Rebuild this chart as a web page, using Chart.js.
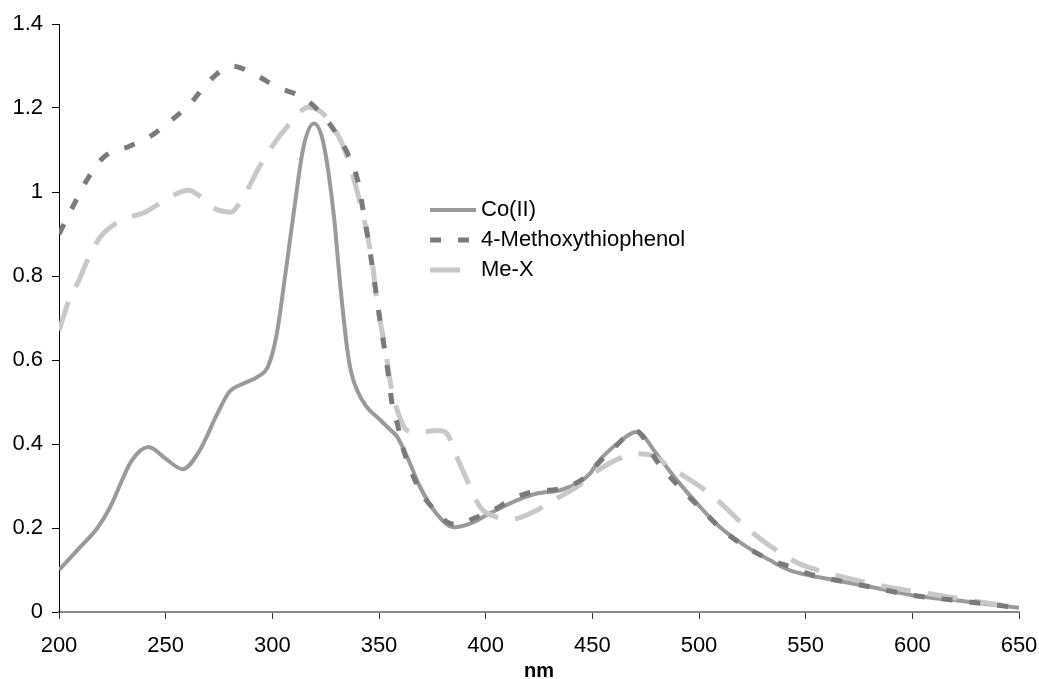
<!DOCTYPE html>
<html>
<head>
<meta charset="utf-8">
<title>Absorption spectra</title>
<script src="https://cdn.jsdelivr.net/npm/chart.js@4.4.0/dist/chart.umd.min.js"></script>
<style>
  html, body { margin: 0; padding: 0; background: #fff; }
</style>
</head>
<body>
<canvas id="spectrumChart" width="1039" height="679"></canvas>
<script>
// data (wavelength in nm, absorbance)
const coX = [200, 210, 218, 224, 234, 242, 250, 258, 266, 274, 280, 287, 293, 298, 302, 306, 310, 314.6, 319.5, 324, 328.7, 332, 335, 337, 340, 344, 350, 355, 358.4, 364, 369, 377, 385, 393, 402, 414.6, 424, 435, 442.7, 449, 452, 461.5, 471, 480, 489.6, 502, 511.4, 522.4, 533.3, 542.7, 552, 564.6, 580, 600, 625, 650];
const coY = [0.10, 0.155, 0.20, 0.25, 0.36, 0.393, 0.365, 0.34, 0.385, 0.47, 0.525, 0.545, 0.56, 0.585, 0.66, 0.80, 0.95, 1.107, 1.163, 1.115, 0.95, 0.77, 0.63, 0.57, 0.525, 0.49, 0.46, 0.435, 0.418, 0.36, 0.30, 0.234, 0.202, 0.211, 0.235, 0.266, 0.282, 0.29, 0.306, 0.33, 0.353, 0.40, 0.429, 0.377, 0.314, 0.242, 0.195, 0.155, 0.123, 0.099, 0.087, 0.075, 0.06, 0.04, 0.025, 0.01];

const methX = [200, 206.8, 213, 221, 233, 242, 252, 261.5, 270, 281, 293.5, 302, 314, 323, 329.5, 335.7, 340.4, 342.7, 345, 350.6, 354.4, 356, 359, 360.7, 364.6, 370, 378.7, 382, 388, 394, 402, 413, 422, 435, 445, 452, 461, 470, 481, 490, 502, 511, 522, 533, 543, 552, 565, 580, 600, 625, 650];
const methY = [0.90, 0.968, 1.028, 1.083, 1.109, 1.13, 1.168, 1.21, 1.262, 1.30, 1.275, 1.25, 1.226, 1.187, 1.143, 1.087, 1.02, 0.952, 0.885, 0.69, 0.564, 0.50, 0.44, 0.40, 0.341, 0.282, 0.23, 0.214, 0.208, 0.222, 0.238, 0.27, 0.286, 0.294, 0.315, 0.35, 0.395, 0.432, 0.354, 0.302, 0.24, 0.195, 0.155, 0.125, 0.107, 0.09, 0.075, 0.06, 0.04, 0.025, 0.01];

const mexX = [200, 205, 209, 214, 219.4, 229.5, 240.4, 252, 260.7, 266, 271.7, 280.3, 287.3, 293.5, 300, 307.6, 317, 323, 329.5, 334, 342, 346.7, 349, 353, 356, 360, 363, 368, 372.5, 378, 381.8, 386.5, 392.7, 397.4, 405.2, 413, 422.4, 430.2, 442.7, 452, 460.7, 470.9, 477.9, 486.4, 505, 525.5, 545.8, 553.5, 567.7, 587, 607, 631.7, 650];
const mexY = [0.67, 0.747, 0.786, 0.845, 0.893, 0.933, 0.952, 0.988, 1.004, 0.99, 0.964, 0.952, 0.996, 1.056, 1.11, 1.159, 1.202, 1.19, 1.147, 1.099, 0.956, 0.837, 0.742, 0.623, 0.528, 0.46, 0.433, 0.428, 0.43, 0.432, 0.425, 0.369, 0.298, 0.25, 0.226, 0.222, 0.238, 0.262, 0.298, 0.335, 0.361, 0.377, 0.373, 0.345, 0.282, 0.187, 0.118, 0.103, 0.083, 0.061, 0.044, 0.024, 0.01];

const seriesNames = ['Co(II)', '4-Methoxythiophenol', 'Me-X'];
const xTickLabels = ['200', '250', '300', '350', '400', '450', '500', '550', '600', '650'];
const yTickLabels = ['0', '0.2', '0.4', '0.6', '0.8', '1', '1.2', '1.4'];

const FONT = '"Liberation Sans", Arial, sans-serif';
Chart.defaults.font.family = FONT;
Chart.defaults.color = '#000';

function toPoints(xs, ys) {
    return xs.map((x, i) => ({ x: x, y: ys[i] }));
}

// legend drawn inside the plot, like the original
const insideLegend = {
    id: 'insideLegend',
    afterDatasetsDraw(chart) {
        const ctx = chart.ctx;
        ctx.save();
        chart.data.datasets.forEach((ds, i) => {
            const y = 210 + i * 30;
            ctx.strokeStyle = ds.borderColor;
            ctx.lineWidth = ds.borderWidth;
            ctx.setLineDash(ds.borderDash || []);
            ctx.beginPath();
            ctx.moveTo(430, y);
            ctx.lineTo(476, y);
            ctx.stroke();
            ctx.setLineDash([]);
            ctx.fillStyle = '#000';
            ctx.font = '22px ' + FONT;
            ctx.textBaseline = 'middle';
            ctx.fillText(ds.label, 481, y);
        });
        ctx.restore();
    }
};

const ctx = document.getElementById('spectrumChart').getContext('2d');
const spectrumChart = new Chart(ctx, {
    type: 'line',
    data: {
        datasets: [{
            label: seriesNames[0],
            data: toPoints(coX, coY),
            borderColor: '#9a9a9a',
            borderWidth: 4,
            order: 2
        }, {
            label: seriesNames[1],
            data: toPoints(methX, methY),
            borderColor: '#7a7a7a',
            borderWidth: 5,
            borderDash: [11, 17],
            order: 0
        }, {
            label: seriesNames[2],
            data: toPoints(mexX, mexY),
            borderColor: '#c8c8c8',
            borderWidth: 5,
            borderDash: [30, 17],
            order: 1
        }]
    },
    options: {
        responsive: false,
        devicePixelRatio: 1,
        animation: false,
        layout: { padding: { top: 24, right: 0, bottom: 0, left: 0 } },
        elements: {
            point: { radius: 0 },
            line: { cubicInterpolationMode: 'monotone', fill: false }
        },
        plugins: {
            legend: { display: false },
            tooltip: { enabled: false }
        },
        scales: {
            x: {
                type: 'linear',
                min: 200,
                max: 650,
                ticks: {
                    stepSize: 50,
                    padding: 14,
                    maxRotation: 0,
                    font: { size: 22 },
                    callback: (v, i) => xTickLabels[i]
                },
                grid: { drawOnChartArea: false, tickLength: 7, color: '#333' },
                border: { color: '#888', width: 2 },
                title: {
                    display: true,
                    text: 'nm',
                    font: { size: 20, weight: 'bold', lineHeight: 1 },
                    padding: { top: 0, bottom: -2 }
                },
                afterFit(scale) {
                    scale.height = 67;
                    scale.paddingLeft = 0;
                    scale.paddingRight = 20;
                }
            },
            y: {
                min: 0,
                max: 1.4,
                ticks: {
                    stepSize: 0.2,
                    padding: 9,
                    font: { size: 22 },
                    callback: (v, i) => yTickLabels[i]
                },
                grid: { drawOnChartArea: false, tickLength: 7, color: '#000' },
                border: { color: '#000', width: 1 },
                afterFit(scale) { scale.width = 59; }
            }
        }
    },
    plugins: [insideLegend]
});
</script>
</body>
</html>
